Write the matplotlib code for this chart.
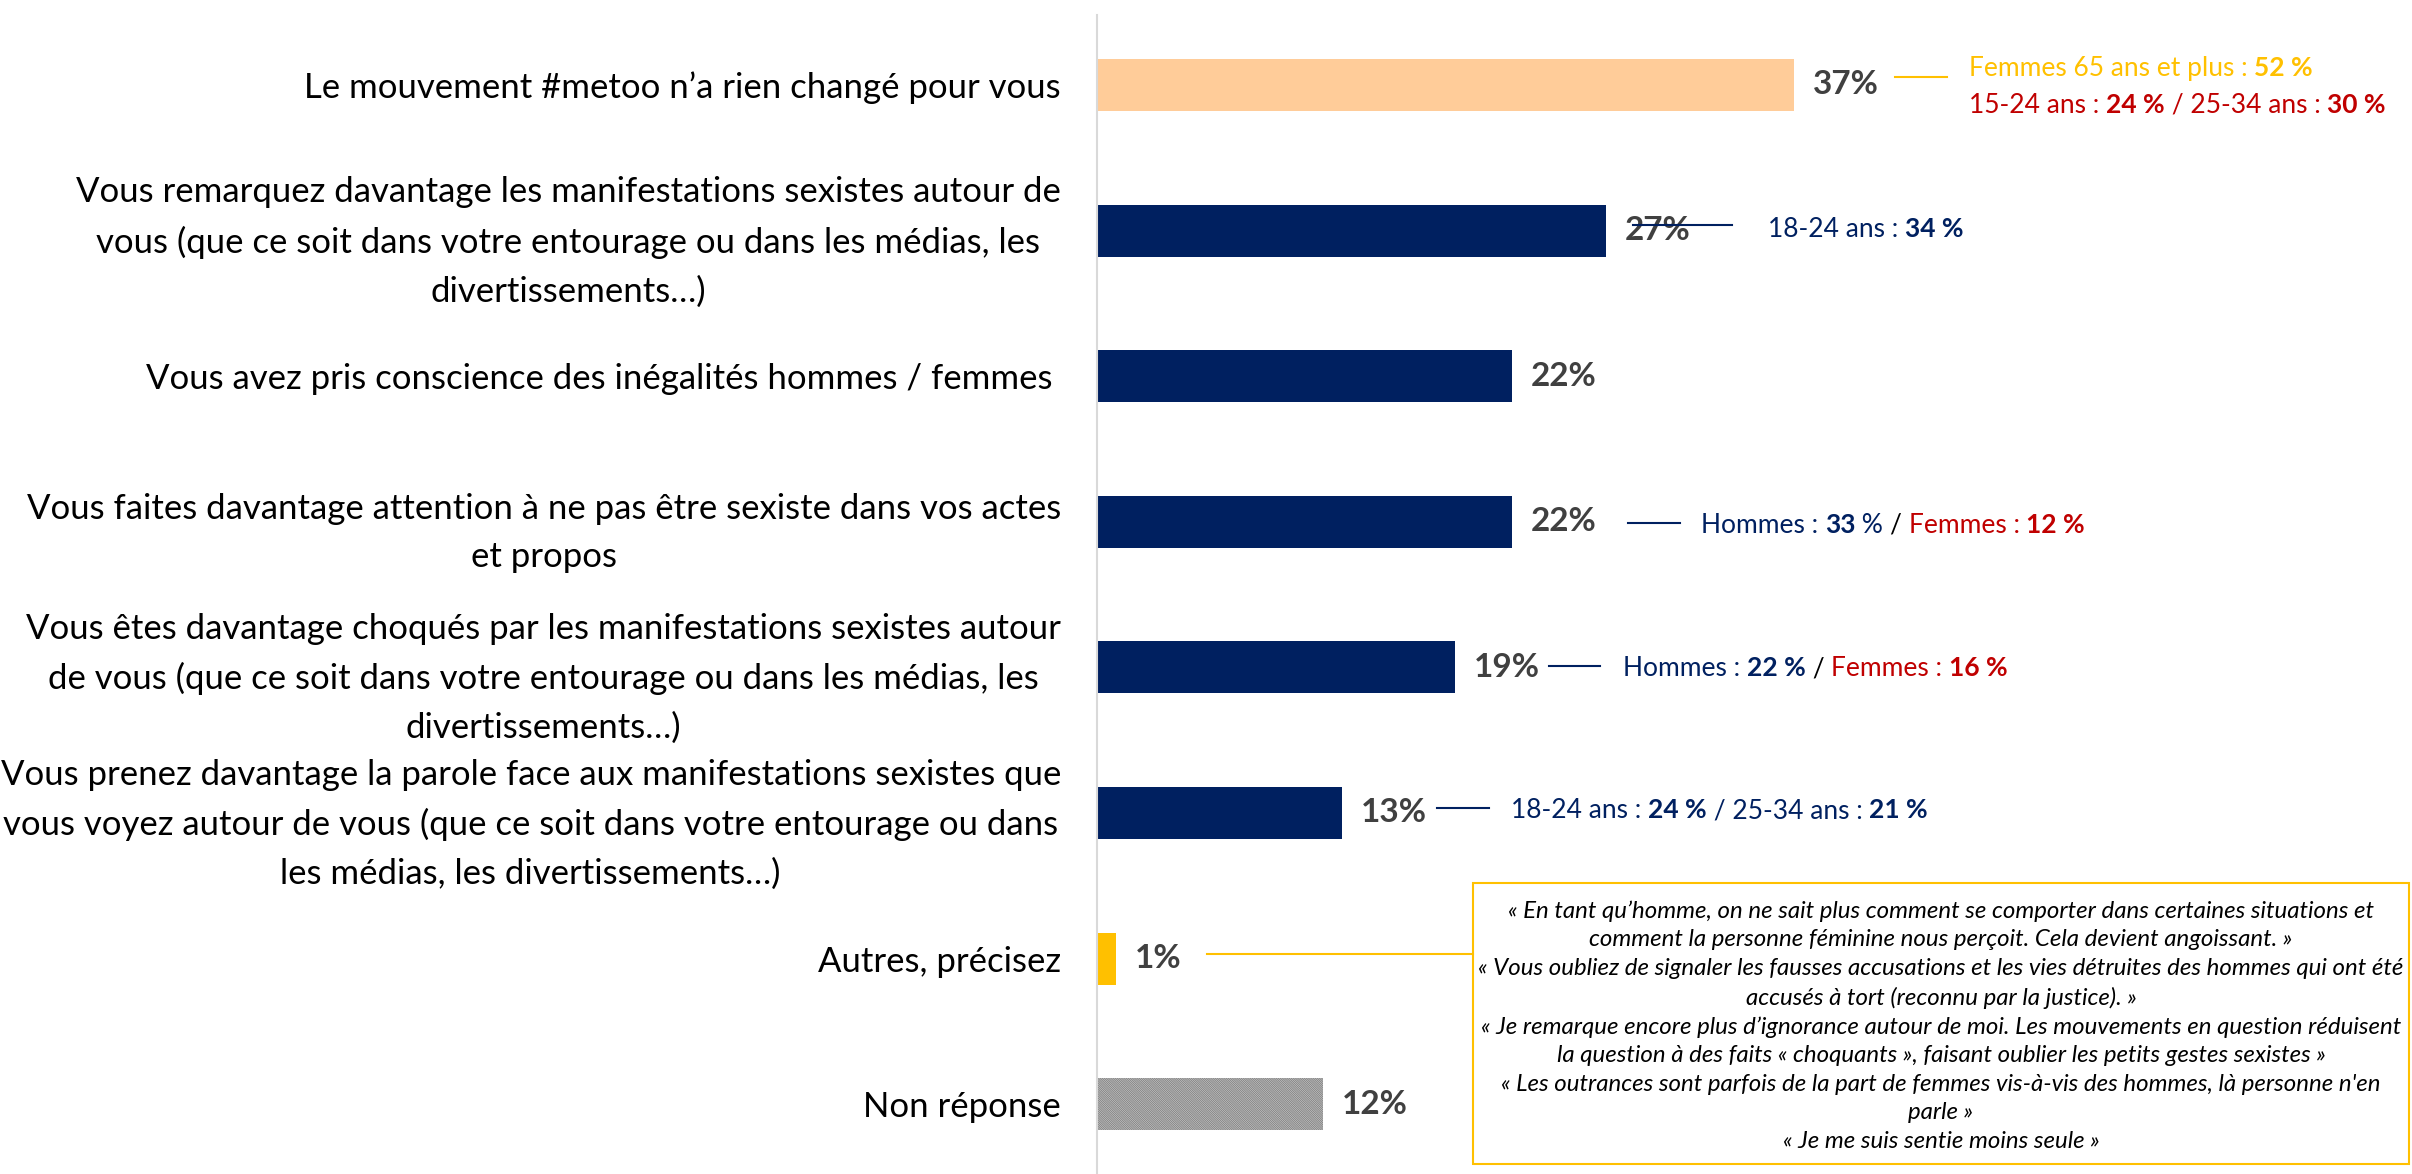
import matplotlib.pyplot as plt
import matplotlib.patches as patches

W, H, DPI = 2412, 1174, 100

plt.rcParams['font.family'] = ['Lato', 'DejaVu Sans']
plt.rcParams['hatch.linewidth'] = 0.7

labels = [
    "Le mouvement #metoo n’a rien changé pour vous",
    "Vous remarquez davantage les manifestations sexistes autour de\n"
    "vous (que ce soit dans votre entourage ou dans les médias, les\n"
    "divertissements…)",
    "Vous avez pris conscience des inégalités hommes / femmes ",
    "Vous faites davantage attention à ne pas être sexiste dans vos actes\n"
    "et propos",
    "Vous êtes davantage choqués par les manifestations sexistes autour\n"
    "de vous (que ce soit dans votre entourage ou dans les médias, les\n"
    "divertissements…)",
    "Vous prenez davantage la parole face aux manifestations sexistes que\n"
    "vous voyez autour de vous (que ce soit dans votre entourage ou dans\n"
    "les médias, les divertissements…)",
    "Autres, précisez",
    "Non réponse",
]
values = [37, 27, 22, 22, 19, 13, 1, 12]

quotes = [
    "« En tant qu’homme, on ne sait plus comment se comporter dans certaines situations et",
    "comment la personne féminine nous perçoit. Cela devient angoissant. »",
    "« Vous oubliez de signaler les fausses accusations et les vies détruites des hommes qui ont été",
    "accusés à tort (reconnu par la justice). »",
    "« Je remarque encore plus d’ignorance autour de moi. Les mouvements en question réduisent",
    "la question à des faits « choquants », faisant oublier les petits gestes sexistes »",
    "« Les outrances sont parfois de la part de femmes vis-à-vis des hommes, là personne n'en",
    "parle »",
    "« Je me suis sentie moins seule »",
]

NAVY = '#002060'
RED = '#C00000'
GOLD = '#FFC000'
GREY = '#404040'
bar_colors = ['#FFCC99', NAVY, NAVY, NAVY, NAVY, NAVY, GOLD, 'white']

# layout in pixels
X0 = 1097          # position of the axis line
PX_PER_PCT = 18.85
Y0 = 85            # centre of the first bar
STEP = 145.6       # distance between bars

fig = plt.figure(figsize=(W / DPI, H / DPI), dpi=DPI)
ax = fig.add_axes([X0 / W, 0, 1 - X0 / W, 1])
ax.set_xlim(0, (W - X0) / PX_PER_PCT)
ax.set_ylim((H - Y0) / STEP, -Y0 / STEP)

ypos = list(range(len(values)))
bars = ax.barh(ypos, values, height=0.357, color=bar_colors, linewidth=0)
bars[-1].set_hatch('\\' * 18)
bars[-1].set_edgecolor('#7F7F7F')
bars[-1].set_linewidth(0)

for y, v in zip(ypos, values):
    ax.text(v + 1.0, y, f'{v}%', va='center', ha='left', fontsize=24,
            fontweight='bold', color=GREY)

ax.set_yticks(ypos, labels)
ax.tick_params(axis='y', length=0, pad=26, labelsize=25, labelcolor='black')
for lbl in ax.get_yticklabels():
    lbl.set_multialignment('center')
    lbl.set_linespacing(1.63)
ax.set_xticks([])
for s in ['top', 'right', 'bottom']:
    ax.spines[s].set_visible(False)
ax.spines['left'].set_color('#D9D9D9')
ax.spines['left'].set_linewidth(1.5)
ax.spines['left'].set_bounds((H - Y0) / STEP, (15 - Y0) / STEP)

renderer = fig.canvas.get_renderer()


def text_width(s, size, weight):
    def w(txt):
        t = fig.text(0, 0, txt, fontsize=size, fontweight=weight)
        bb = t.get_window_extent(renderer=renderer)
        t.remove()
        return bb.width
    return w('x' + s + 'x') - w('xx')


def rich(x, y, parts, size=19):
    for s, color, weight in parts:
        fig.text(x / W, 1 - y / H, s, color=color, fontsize=size,
                 fontweight=weight, va='center_baseline', ha='left')
        x += text_width(s, size, weight)


def hline(x0, x1, y, color):
    fig.add_artist(plt.Line2D([x0 / W, x1 / W], [1 - y / H, 1 - y / H],
                              color=color, lw=1.5, transform=fig.transFigure))


hline(1895, 1947, 77, GOLD)
rich(1969, 66, [("Femmes 65 ans et plus : ", GOLD, 'normal'), ("52 %", GOLD, 'bold')])
rich(1969, 103, [("15-24 ans : ", RED, 'normal'), ("24 %", RED, 'bold'),
                 (" / 25-34 ans : ", RED, 'normal'), ("30 %", RED, 'bold')])

hline(1633, 1732, 225, NAVY)
rich(1768, 227, [("18-24 ans : ", NAVY, 'normal'), ("34 %", NAVY, 'bold')])

hline(1628, 1680, 523, NAVY)
rich(1701, 523, [("Hommes : ", NAVY, 'normal'), ("33", NAVY, 'bold'), (" % ", NAVY, 'normal'),
                 ("/ ", 'black', 'normal'), ("Femmes : ", RED, 'normal'), ("12 %", RED, 'bold')])

hline(1549, 1600, 666, NAVY)
rich(1623, 666, [("Hommes : ", NAVY, 'normal'), ("22 %", NAVY, 'bold'), (" / ", 'black', 'normal'),
                 ("Femmes : ", RED, 'normal'), ("16 %", RED, 'bold')])

hline(1437, 1489, 808, NAVY)
rich(1511, 808, [("18-24 ans : ", NAVY, 'normal'), ("24 %", NAVY, 'bold'),
                 (" / 25-34 ans : ", NAVY, 'normal'), ("21 %", NAVY, 'bold')])

hline(1207, 1473, 954, GOLD)

# quote box
bx0, by0, bx1, by1 = 1473, 883, 2409, 1164
fig.add_artist(patches.Rectangle((bx0 / W, 1 - by1 / H), (bx1 - bx0) / W, (by1 - by0) / H,
                                 transform=fig.transFigure, fill=False, edgecolor=GOLD, lw=1.5))
fig.text((bx0 + bx1) / 2 / W, 1 - 1026 / H, '\n'.join(quotes), ha='center', va='center',
         multialignment='center', fontsize=17.3, style='italic', color='black', linespacing=1.44)

fig.savefig('out.png', dpi=DPI)
